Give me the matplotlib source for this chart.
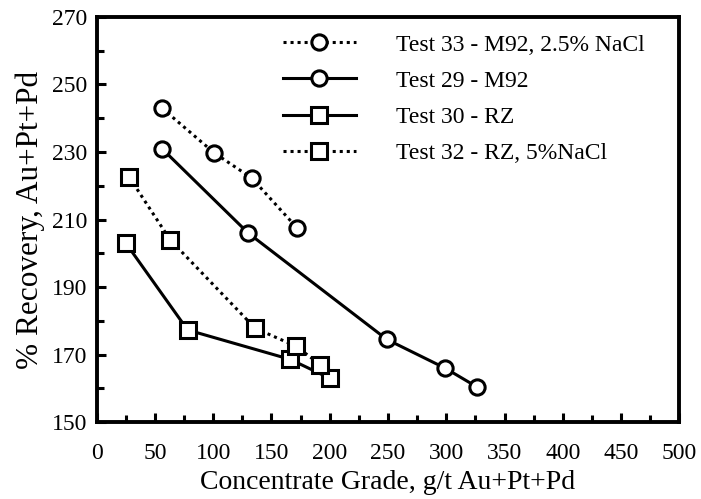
import matplotlib.pyplot as plt
from matplotlib.ticker import MultipleLocator

# data
t33_x = [56, 101, 133, 172]
t33_y = [243, 229.7, 222.3, 207.5]

t29_x = [56, 130, 249, 299, 326]
t29_y = [231, 206, 174.5, 166, 160.5]

t30_x = [25, 78, 166, 200]
t30_y = [203, 177.3, 168.6, 163]

t32_x = [28, 63, 136, 171, 192]
t32_y = [222.5, 204, 177.8, 172.5, 167]

labels = ["Test 33 - M92, 2.5% NaCl", "Test 29 - M92", "Test 30 - RZ", "Test 32 - RZ, 5%NaCl"]
yticks = [150, 170, 190, 210, 230, 250, 270]
yminor = [160, 180, 200, 220, 240, 260]

plt.rcParams['font.family'] = ['Liberation Serif', 'DejaVu Serif']

fig = plt.figure(figsize=(7.01, 4.99), dpi=100)
ax = fig.add_axes([0.138, 0.154, 0.831, 0.812])

lw = 2.2
ms = 11
mew = 2.2
dot = (0, (1, 1.3))

ax.plot(t33_x, t33_y, linestyle=dot, color='black', lw=lw, marker='o', ms=ms,
        mfc='white', mec='black', mew=mew, label=labels[0])
ax.plot(t29_x, t29_y, linestyle='-', color='black', lw=lw, marker='o', ms=ms,
        mfc='white', mec='black', mew=mew, label=labels[1])
ax.plot(t30_x, t30_y, linestyle='-', color='black', lw=lw, marker='s', ms=ms,
        mfc='white', mec='black', mew=mew, label=labels[2])
ax.plot(t32_x, t32_y, linestyle=dot, color='black', lw=lw, marker='s', ms=ms,
        mfc='white', mec='black', mew=mew, label=labels[3])

ax.set_xlim(0, 500)
ax.set_ylim(150, 270)
ax.xaxis.set_major_locator(MultipleLocator(50))
ax.xaxis.set_minor_locator(MultipleLocator(25))
ax.set_yticks(yticks)
ax.set_yticks(yminor, minor=True)
ax.tick_params(which='both', direction='in', top=False, right=False, width=2.2, labelsize=17)
ax.tick_params(which='major', length=6.5)
ax.tick_params(which='minor', length=5)
ax.tick_params(axis='x', which='major', pad=15)
ax.tick_params(axis='y', which='major', pad=7)
for s in ax.spines.values():
    s.set_linewidth(2.8)

ax.set_xlabel("Concentrate Grade, g/t Au+Pt+Pd", fontsize=20, labelpad=4)
ax.set_ylabel("% Recovery, Au+Pt+Pd", fontsize=22.5, labelpad=5)

leg = ax.legend(loc='upper left', bbox_to_anchor=(0.319, 0.958), frameon=False, fontsize=17,
                handlelength=3.1, handletextpad=1.7, labelspacing=0.62,
                borderpad=0, borderaxespad=0)

fig.savefig("out.png", dpi=100)
